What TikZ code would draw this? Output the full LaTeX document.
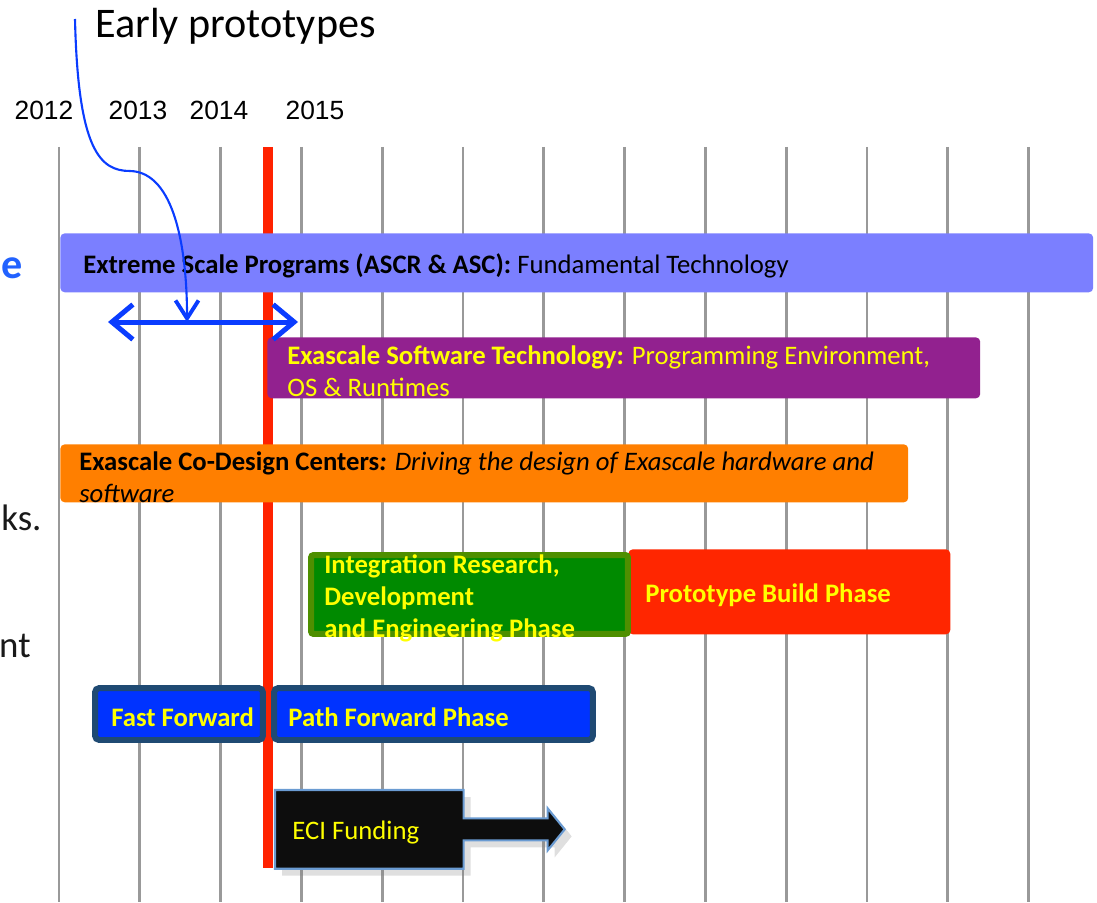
\documentclass[tikz,border=0pt]{standalone}
\usepackage{fontspec}
\setmainfont{Carlito}
\newfontfamily\yearfont{Liberation Sans}
\usetikzlibrary{arrows.meta,positioning,calc,shadows}

\definecolor{xsblue}{HTML}{7B7FFF}
\definecolor{estpurple}{HTML}{92218F}
\definecolor{cdcorange}{HTML}{FF7F00}
\definecolor{iregreen}{HTML}{008A00}
\definecolor{ireedge}{HTML}{4E8F00}
\definecolor{pbpred}{HTML}{FF2600}
\definecolor{fwdblue}{HTML}{0033FF}
\definecolor{fwdedge}{HTML}{1F4A73}
\definecolor{eciedge}{HTML}{6A9BD2}
\definecolor{nowred}{HTML}{FF2200}
\definecolor{arrblue}{HTML}{0A3CFF}
\definecolor{cutblue}{HTML}{2262FF}
\definecolor{txtyellow}{HTML}{FFFF00}

\begin{document}
\begin{tikzpicture}[
  x=0.02cm, y=-0.02cm,
  font=\fontsize{15.2pt}{18.2pt}\selectfont,
  bar/.style={anchor=north west, inner sep=0pt, rounded corners=2.5pt},
  fwd/.style={bar, fill=fwdblue, draw=fwdedge, line width=0.12cm, minimum height=1.04cm},
  txt/.style={inner sep=0pt, align=left, yshift=-2pt},
  yel/.style={txt, text=txtyellow},
  yelb/.style={yel, font=\fontsize{15.2pt}{18.2pt}\selectfont\bfseries},
  year/.style={font=\yearfont\fontsize{15pt}{18pt}\selectfont, anchor=base, inner sep=0pt},
  cut/.style={inner sep=0pt, font=\fontsize{21pt}{25pt}\selectfont, text=black!90},
  gridline/.style={draw=black!40, line width=1.6pt},
  nowline/.style={draw=nowred, line width=0.2cm},
  dblarr/.style={{Straight Barb[length=0.42cm,width=0.7cm]}-{Straight Barb[length=0.42cm,width=0.7cm]}, draw=arrblue, line width=0.1cm, line cap=round},
  curvearr/.style={-{Straight Barb[length=0.36cm,width=0.46cm,line width=2.2pt]}, draw=arrblue, line width=1.2pt},
  eciarrow/.style={fill=black!95, draw=eciedge, line width=1.2pt, drop shadow={opacity=0.25, shadow xshift=4pt, shadow yshift=-4pt}}
]
\useasboundingbox (0,0) rectangle (1097,902);

\foreach \i in {0,...,12}
  \draw[gridline] ({59+80.8*\i},147) -- ++(0,755);
\draw[nowline] (268,147) -- (268,868);

\node[anchor=base west, inner sep=0pt, font=\fontsize{24pt}{28pt}\selectfont] (early) at (95,38) {Early prototypes};
\node[year] (y2012) at (44,120) {2012};
\node[year] (y2013) at (138,120) {2013};
\node[year] (y2014) at (219,120) {2014};
\node[year] (y2015) at (315,120) {2015};

\node[cut, anchor=west, text=cutblue, font=\bfseries\fontsize{24pt}{28pt}\selectfont] (cuta) at (1,268) {e};
\node[cut, anchor=base west] (cutb) at (1,530) {ks.};
\node[cut, anchor=base east] (cutc) at (31,657) {nt};

\node[bar, fill=xsblue, minimum width=20.66cm, minimum height=1.18cm] (xs) at (60,233) {};
\node[txt, right=0.46cm of xs.west] (xslbl) {\textbf{Extreme Scale Programs (ASCR \& ASC):} Fundamental Technology};

\node[bar, fill=estpurple, minimum width=14.26cm, minimum height=1.22cm] (est) at (267,337) {};
\node[yel, right=0.4cm of est.west] (estlbl) {\textbf{Exascale Software Technology:} Programming Environment,\\OS \& Runtimes};

\node[bar, fill=cdcorange, minimum width=16.96cm, minimum height=1.16cm] (cdc) at (60,444) {};
\node[txt, right=0.38cm of cdc.west] (cdclbl) {\textbf{Exascale Co-Design Centers\textit{:}} \textit{Driving the design of Exascale hardware and}\\\textit{software}};

\node[bar, fill=pbpred, minimum width=6.44cm, minimum height=1.7cm] (pbp) at (628,549) {};
\node[bar, fill=iregreen, draw=ireedge, line width=0.12cm, rounded corners=1.5pt, minimum width=6.34cm, minimum height=1.58cm] (ire) at (308,552) {};
\node[yelb, right=0.32cm of ire.west] (irelbl) {Integration Research,\\Development\\and Engineering Phase};
\node[yelb, right=0.34cm of pbp.west] (pbplbl) {Prototype Build Phase};

\node[fwd, minimum width=3.36cm] (ff) at (92,685) {};
\node[yelb, right=0.38cm of ff.west] (fflbl) {Fast Forward};
\node[fwd, minimum width=6.38cm] (pf) at (271,685) {};
\node[yelb, right=0.34cm of pf.west] (pflbl) {Path Forward Phase};

\node[anchor=north west, inner sep=0pt, minimum width=3.76cm, minimum height=1.56cm] (eci) at (275,790) {};
\draw[eciarrow] (eci.north west) -- (eci.north east) -- ($(eci.east)+(0,-11)$) -- ++(84,0) -- ++(0,-10)
  -- ++(17,21) -- ++(-17,21) -- ++(0,-10) -- ++(-84,0) -- (eci.south east) -- (eci.south west) -- cycle;
\node[yel, right=0.34cm of eci.west] (ecilbl) {ECI Funding};

\coordinate (pL) at (108,322);
\coordinate (pR) at (298,322);
\coordinate (protomid) at ($(pL)!0.416!(pR)$);
\coordinate (epstart) at ($(early.base west)+(-20,-19)$);
\draw[dblarr] (pL) -- (pR);
\draw[curvearr] (epstart) .. controls (78,150) and (100,171) .. (130,171)
  .. controls (175,172) and (187,250) .. (protomid);
\end{tikzpicture}
\end{document}
